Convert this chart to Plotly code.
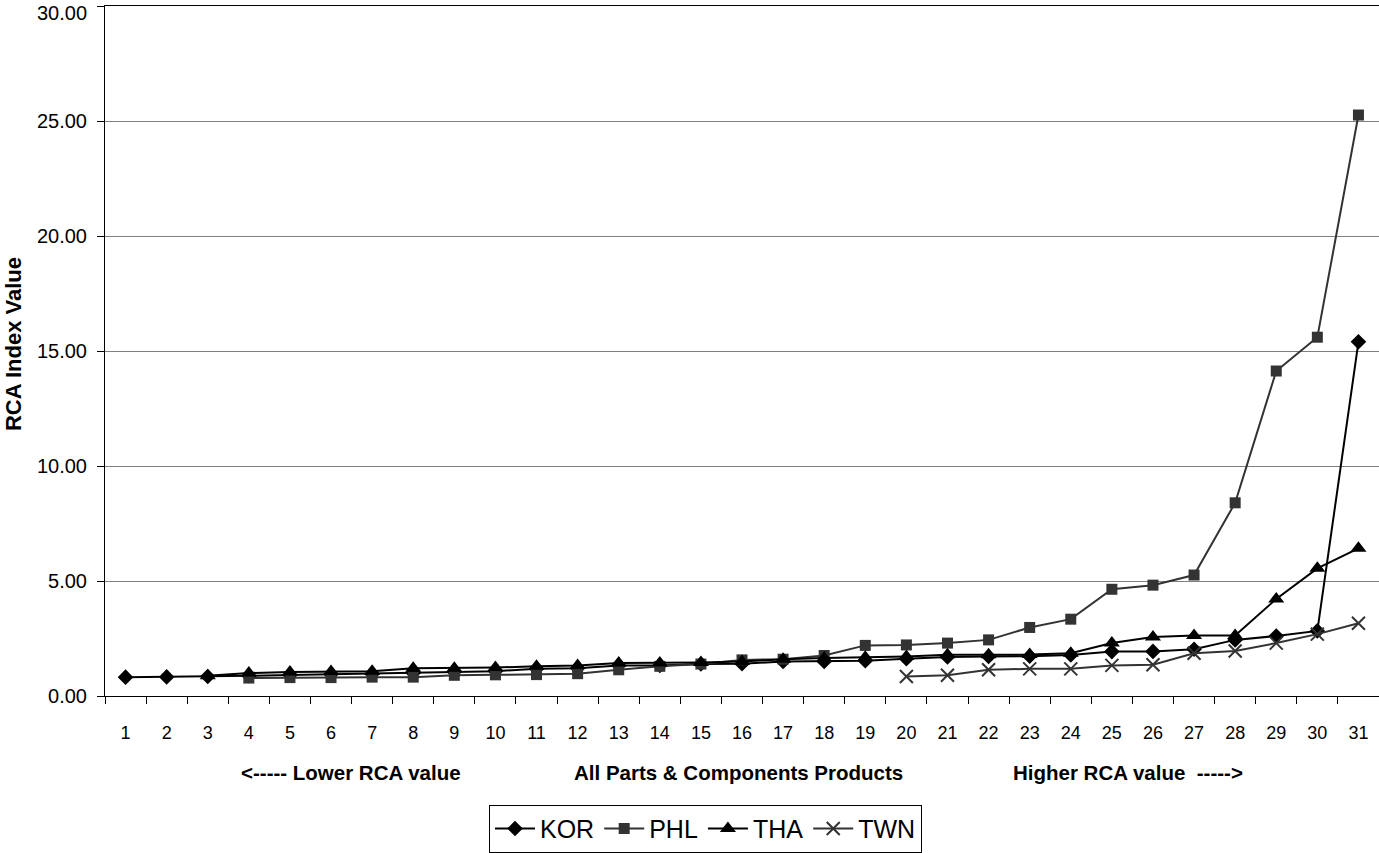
import plotly.graph_objects as go

# categories 1..31 (products sorted by RCA value)
categories = [str(i) for i in range(1, 32)]

kor = [0.82, 0.83, 0.85, 0.88, 0.91, 0.95, 0.96, 1.00, 1.05, 1.08,
       1.18, 1.21, 1.33, 1.33, 1.39, 1.40, 1.50, 1.50, 1.53, 1.62,
       1.70, 1.72, 1.73, 1.78, 1.93, 1.94, 2.03, 2.44, 2.61, 2.83,
       15.40]
phl = [None, None, None, 0.78, 0.80, 0.80, 0.82, 0.82, 0.90, 0.92,
       0.93, 0.97, 1.14, 1.29, 1.39, 1.57, 1.60, 1.76, 2.20, 2.22,
       2.30, 2.44, 2.98, 3.34, 4.64, 4.82, 5.26, 8.40, 14.13, 15.60,
       25.26]
tha = [None, None, 0.88, 1.00, 1.04, 1.07, 1.08, 1.21, 1.21, 1.24,
       1.29, 1.33, 1.43, 1.43, 1.46, 1.50, 1.60, 1.65, 1.68, 1.72,
       1.79, 1.79, 1.80, 1.86, 2.30, 2.56, 2.63, 2.63, 4.22, 5.55,
       6.42]
twn = [None] * 19 + [0.85, 0.90, 1.14, 1.18, 1.18, 1.33, 1.36, 1.86,
                     1.96, 2.30, 2.69, 3.16]

y_ticks = [0, 5, 10, 15, 20, 25, 30]
y_ticktext = ["0.00", "5.00", "10.00", "15.00", "20.00", "25.00", ""]
y_top_label = "30.00"  # drawn separately, nudged down so it is not cut off

FONT = "Liberation Sans, Arial, sans-serif"

# plot area in pixels (used to place the captions)
L, R, T, B = 105, 1379, 6, 698


def px_to_paper(x, y):
    return (x - L) / (R - L), (B - y) / (B - T)


fig = go.Figure()

fig.add_trace(go.Scatter(
    x=categories, y=kor, name="KOR", mode="lines+markers",
    line=dict(color="#000000", width=2),
    marker=dict(symbol="diamond", size=12, color="#000000"),
))
fig.add_trace(go.Scatter(
    x=categories, y=phl, name="PHL", mode="lines+markers",
    line=dict(color="#333333", width=2),
    marker=dict(symbol="square", size=11, color="#333333"),
))
fig.add_trace(go.Scatter(
    x=categories, y=tha, name="THA", mode="lines+markers",
    line=dict(color="#000000", width=2),
    marker=dict(symbol="triangle-up", size=14, color="#000000"),
))
fig.add_trace(go.Scatter(
    x=categories, y=twn, name="TWN", mode="lines+markers",
    line=dict(color="#333333", width=2),
    marker=dict(symbol="x-thin", size=13, color="#333333",
                line=dict(color="#333333", width=2)),
))

lx, ly = px_to_paper(705.5, 807)

fig.update_layout(
    width=1379, height=853,
    margin=dict(l=L, r=1379 - R, t=T, b=853 - B),
    paper_bgcolor="white", plot_bgcolor="white",
    font=dict(family=FONT, size=18, color="black"),
    showlegend=True,
    legend=dict(
        orientation="h", x=lx, xanchor="center", y=ly, yanchor="top",
        bordercolor="black", borderwidth=1,
        font=dict(size=25, family=FONT),
        itemwidth=40, tracegroupgap=0,
    ),
    xaxis=dict(
        type="category", range=[-0.5, 30.5], automargin=False,
        showline=True, linecolor="black", linewidth=1, mirror=True,
        ticks="outside", ticklen=7, tickcolor="black", tickson="boundaries",
        ticklabelstandoff=20,
        showgrid=False, tickfont=dict(size=18),
    ),
    yaxis=dict(
        range=[0, 30], tickvals=y_ticks, ticktext=y_ticktext, automargin=False,
        showline=True, linecolor="black", linewidth=1,
        ticks="outside", ticklen=7, tickcolor="black",
        ticklabelstandoff=6,
        showgrid=True, gridcolor="#808080", gridwidth=1,
        zeroline=False, tickfont=dict(size=20),
    ),
)

captions = [
    ("<b>RCA Index Value</b>", 13, 345, -90, 22, "center"),
    ("<b><----- Lower RCA value</b>", 351, 775, 0, 20.5, "center"),
    ("<b>All Parts & Components Products</b>", 738, 775, 0, 20.5, "center"),
    ("<b>Higher RCA value  -----></b>", 1128, 775, 0, 20.5, "center"),
    (y_top_label, 89, 13, 0, 20, "right"),
]
for text, cx, cy, angle, size, anchor in captions:
    ax, ay = px_to_paper(cx, cy)
    fig.add_annotation(
        text=text, xref="paper", yref="paper", x=ax, y=ay,
        showarrow=False, xanchor=anchor, yanchor="middle",
        textangle=angle, font=dict(size=size, family=FONT),
    )

# the page body has a default 8px margin; drop it so the chart sits at 0,0
fig.write_html("out.html", config={"displayModeBar": False},
               post_script="document.body.style.margin='0px';")
